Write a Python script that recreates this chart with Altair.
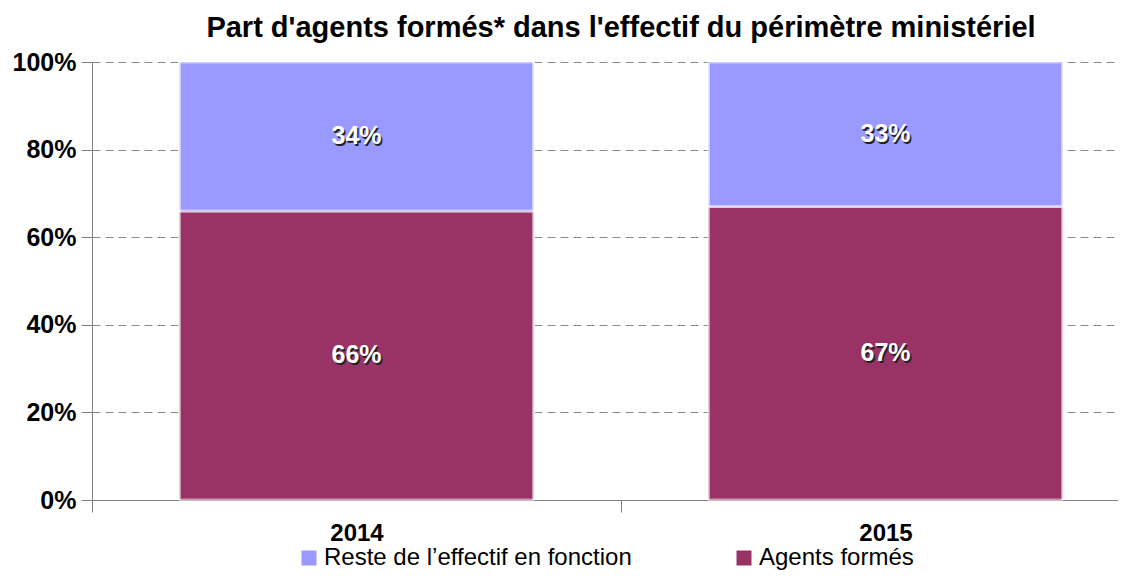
import altair as alt
import pandas as pd

years = [2014, 2015]
series = ["Agents formés", "Reste de l’effectif en fonction"]
agents = [0.66, 0.67]
reste = [0.34, 0.33]
colors = ["#993366", "#9999ff"]
title = "Part d'agents formés* dans l'effectif du périmètre ministériel"

rows = []
for i, yr in enumerate(years):
    rows.append({"year": yr, "series": series[0], "value": agents[i], "ord": 0})
    rows.append({"year": yr, "series": series[1], "value": reste[i], "ord": 1})
df = pd.DataFrame(rows)

FONT = "Liberation Sans"

base = alt.Chart(df).transform_stack(
    stack="value", groupby=["year"], as_=["y0", "y1"],
    sort=[alt.SortField("ord", order="ascending")]
).transform_calculate(
    mid="(datum.y0 + datum.y1) / 2",
    label="format(datum.value, '.0%')"
)

xscale = alt.Scale(domain=[2013.5, 2015.4395], nice=False, zero=False, padding=0)
yscale = alt.Scale(domain=[0, 1], nice=False, padding=0)

x_axis = alt.Axis(
    values=[2013.5, 2014, 2014.5, 2015],
    labelExpr="datum.value % 1 == 0 ? '' + datum.value : ''",
    tickOpacity={"condition": {"test": "datum.value % 1 == 0", "value": 0}, "value": 1},
    grid=False, title=None, tickSize=12, labelPadding=9,
    labelFontSize=24, labelFontWeight="bold", labelColor="black", labelFont=FONT,
    domainColor="#808080", tickColor="#808080", labelOverlap=False, labelFlush=False,
)
y_axis = alt.Axis(
    values=[0, 0.2, 0.4, 0.6, 0.8, 1], format="%", title=None,
    tickSize=11, labelPadding=5, labelFontSize=25, labelFontWeight="bold",
    labelColor="black", labelFont=FONT,
    gridDash=[8, 5], gridColor="#8a8a8a", domainColor="#808080", tickColor="#808080",
)

bars = base.mark_bar(size=354, stroke="white", strokeOpacity=0.5, strokeWidth=3,
                     cornerRadius=2).encode(
    x=alt.X("year:Q", scale=xscale, axis=x_axis),
    y=alt.Y("y0:Q", scale=yscale, axis=y_axis),
    y2="y1:Q",
    color=alt.Color(
        "series:N",
        scale=alt.Scale(domain=[series[1], series[0]], range=[colors[1], colors[0]]),
        legend=alt.Legend(
            title=None, orient="none", legendX=205, legendY=484, direction="horizontal",
            symbolType="square", symbolSize=225, symbolStrokeWidth=0, symbolOpacity=1,
            labelFontSize=24, labelFont=FONT, labelColor="black", labelOffset=3,
            columnPadding=100, labelLimit=600,
        ),
    ),
)

shadow = base.mark_text(color="#222222", fontSize=25, fontWeight="bold", font=FONT,
                        dx=1.5, dy=1.5).encode(
    x=alt.X("year:Q", scale=xscale), y=alt.Y("mid:Q", scale=yscale), text="label:N"
)
labels = base.mark_text(color="white", fontSize=25, fontWeight="bold", font=FONT).encode(
    x=alt.X("year:Q", scale=xscale), y=alt.Y("mid:Q", scale=yscale), text="label:N"
)

chart = alt.layer(bars, shadow, labels).properties(
    width=1026, height=438,
    title=alt.TitleParams(title, fontSize=29, fontWeight="bold", font=FONT, color="black",
                          anchor="middle", dx=16, offset=7),
    autosize=alt.AutoSizeParams(type="none"),
    padding={"left": 84, "top": 54, "right": 0, "bottom": 74},
    background="white",
).configure_view(stroke=None)

chart.save("out.html", embed_options={"renderer": "svg", "actions": False})
